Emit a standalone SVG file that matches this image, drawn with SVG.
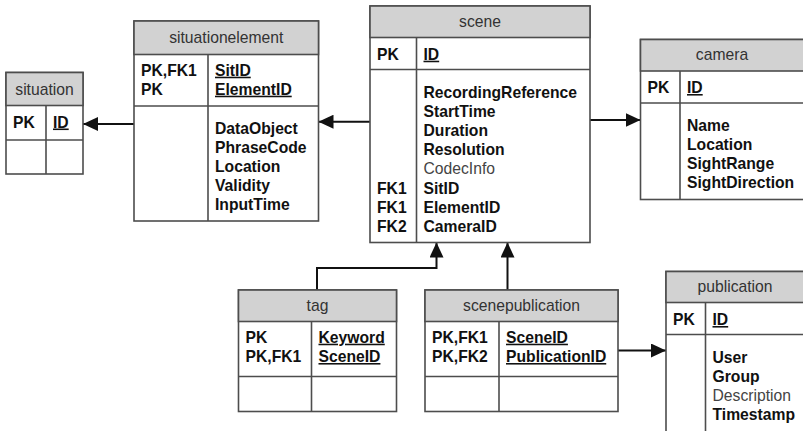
<svg xmlns="http://www.w3.org/2000/svg" width="803" height="431" viewBox="0 0 803 431">
  <style>
    .box { fill: #ffffff; stroke: #4d4d4d; stroke-width: 1.6; }
    .head { fill: #d2d2d2; stroke: #4d4d4d; stroke-width: 1.6; }
    .sep { stroke: #4d4d4d; stroke-width: 1.6; fill: none; }
    .title { font-family: "Liberation Sans", Arial, sans-serif; font-size: 15.7px; fill: #333333; text-anchor: middle; }
    .f { font-family: "Liberation Sans", Arial, sans-serif; font-size: 15.7px; font-weight: bold; fill: #111111; }
    .k { text-decoration: underline; }
    .opt { font-weight: normal; fill: #444444; }
    .conn { stroke: #111111; stroke-width: 2; fill: none; marker-end: url(#arrow); }
  </style>
  <defs>
    <marker id="arrow" viewBox="0 0 15 14" refX="15" refY="7" markerWidth="15" markerHeight="14" markerUnits="userSpaceOnUse" orient="auto">
      <path d="M0,0 L15,7 L0,14 Z" fill="#111111"/>
    </marker>
  </defs>

  <rect width="803" height="431" fill="#ffffff"/>

  <!-- relationships -->
  <g id="connectors">
    <path class="conn" d="M370,121.7 H318.5"/>
    <path class="conn" d="M134,124 H83"/>
    <path class="conn" d="M590,120 H640.5"/>
    <path class="conn" d="M317,290 V268 H436.5 V242.5"/>
    <path class="conn" d="M507.5,290 V242.5"/>
    <path class="conn" d="M618,350.5 H666"/>
  </g>

  <!-- situation -->
  <g id="situation">
    <rect class="box" x="6" y="72.5" width="77" height="101.5"/>
    <rect class="head" x="6" y="72.5" width="77" height="33"/>
    <line class="sep" x1="6" y1="140" x2="83" y2="140"/>
    <line class="sep" x1="46" y1="105.5" x2="46" y2="174"/>
    <text class="title" x="44.5" y="94.7">situation</text>
    <text class="f" x="13" y="127.5">PK</text>
    <text class="f k" x="53" y="127.5">ID</text>
  </g>

  <!-- situationelement -->
  <g id="situationelement">
    <rect class="box" x="134" y="21" width="184.5" height="200"/>
    <rect class="head" x="134" y="21" width="184.5" height="33.5"/>
    <line class="sep" x1="134" y1="106" x2="318.5" y2="106"/>
    <line class="sep" x1="208" y1="54.5" x2="208" y2="221"/>
    <text class="title" x="226.3" y="43">situationelement</text>
    <text class="f" x="141" y="75.7">PK,FK1</text>
    <text class="f" x="141" y="94.7">PK</text>
    <text class="f k" x="215" y="75.7">SitID</text>
    <text class="f k" x="215" y="94.7">ElementID</text>
    <text class="f" x="215" y="134">DataObject</text>
    <text class="f" x="215" y="153">PhraseCode</text>
    <text class="f" x="215" y="172">Location</text>
    <text class="f" x="215" y="191">Validity</text>
    <text class="f" x="215" y="210">InputTime</text>
  </g>

  <!-- scene -->
  <g id="scene">
    <rect class="box" x="370" y="6" width="220" height="236.5"/>
    <rect class="head" x="370" y="6" width="220" height="31.5"/>
    <line class="sep" x1="370" y1="69.5" x2="590" y2="69.5"/>
    <line class="sep" x1="416.5" y1="37.5" x2="416.5" y2="242.5"/>
    <text class="title" x="480" y="27">scene</text>
    <text class="f" x="377" y="59.7">PK</text>
    <text class="f k" x="423.5" y="59.7">ID</text>
    <text class="f" x="423.5" y="97.5">RecordingReference</text>
    <text class="f" x="423.5" y="116.7">StartTime</text>
    <text class="f" x="423.5" y="135.9">Duration</text>
    <text class="f" x="423.5" y="155.1">Resolution</text>
    <text class="f opt" x="423.5" y="174.3">CodecInfo</text>
    <text class="f" x="377" y="193.5">FK1</text>
    <text class="f" x="423.5" y="193.5">SitID</text>
    <text class="f" x="377" y="212.7">FK1</text>
    <text class="f" x="423.5" y="212.7">ElementID</text>
    <text class="f" x="377" y="231.9">FK2</text>
    <text class="f" x="423.5" y="231.9">CameraID</text>
  </g>

  <!-- camera -->
  <g id="camera">
    <rect class="box" x="640.5" y="39.5" width="164" height="160"/>
    <rect class="head" x="640.5" y="39.5" width="164" height="31.5"/>
    <line class="sep" x1="640.5" y1="103" x2="804.5" y2="103"/>
    <line class="sep" x1="680" y1="71" x2="680" y2="199.5"/>
    <text class="title" x="722" y="60.4">camera</text>
    <text class="f" x="647.5" y="93">PK</text>
    <text class="f k" x="687" y="93">ID</text>
    <text class="f" x="687" y="131.4">Name</text>
    <text class="f" x="687" y="150.3">Location</text>
    <text class="f" x="687" y="169.2">SightRange</text>
    <text class="f" x="687" y="188.1">SightDirection</text>
  </g>

  <!-- tag -->
  <g id="tag">
    <rect class="box" x="238.5" y="290" width="158" height="121.5"/>
    <rect class="head" x="238.5" y="290" width="158" height="31.5"/>
    <line class="sep" x1="238.5" y1="376.5" x2="396.5" y2="376.5"/>
    <line class="sep" x1="311.5" y1="321.5" x2="311.5" y2="411.5"/>
    <text class="title" x="317.5" y="311.4">tag</text>
    <text class="f" x="245.5" y="342.7">PK</text>
    <text class="f" x="245.5" y="362">PK,FK1</text>
    <text class="f k" x="318.5" y="342.7">Keyword</text>
    <text class="f k" x="318.5" y="362">SceneID</text>
  </g>

  <!-- scenepublication -->
  <g id="scenepublication">
    <rect class="box" x="425" y="290" width="193" height="121.5"/>
    <rect class="head" x="425" y="290" width="193" height="31.5"/>
    <line class="sep" x1="425" y1="376.5" x2="618" y2="376.5"/>
    <line class="sep" x1="499" y1="321.5" x2="499" y2="411.5"/>
    <text class="title" x="521.5" y="311.4">scenepublication</text>
    <text class="f" x="432" y="342.7">PK,FK1</text>
    <text class="f" x="432" y="362">PK,FK2</text>
    <text class="f k" x="506" y="342.7">SceneID</text>
    <text class="f k" x="506" y="362">PublicationID</text>
  </g>

  <!-- publication -->
  <g id="publication">
    <rect class="box" x="666" y="271.5" width="138.5" height="170"/>
    <rect class="head" x="666" y="271.5" width="138.5" height="31"/>
    <line class="sep" x1="666" y1="334.5" x2="804.5" y2="334.5"/>
    <line class="sep" x1="705.5" y1="302.5" x2="705.5" y2="441.5"/>
    <text class="title" x="735" y="291.7">publication</text>
    <text class="f" x="673" y="325">PK</text>
    <text class="f k" x="712.5" y="325">ID</text>
    <text class="f" x="712.5" y="363">User</text>
    <text class="f" x="712.5" y="382">Group</text>
    <text class="f opt" x="712.5" y="401">Description</text>
    <text class="f" x="712.5" y="420">Timestamp</text>
  </g>
</svg>
